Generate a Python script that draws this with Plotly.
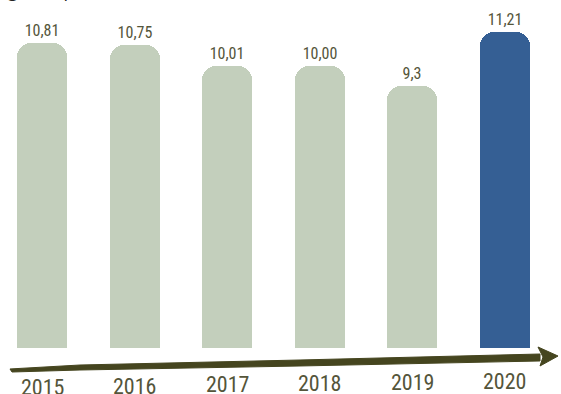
import plotly.graph_objects as go

years = ["2015", "2016", "2017", "2018", "2019", "2020"]
values = [10.81, 10.75, 10.01, 10.00, 9.3, 11.21]
value_labels = ["10,81", "10,75", "10,01", "10,00", "9,3", "11,21"]

W, H = 561, 394
SAGE = "#c3cfbc"
BLUE = "#355f94"
OLIVE = "#45451f"
TEXT = "#54553a"
FONT = "Roboto Condensed, Roboto, sans-serif"

colors = [SAGE] * (len(years) - 1) + [BLUE]

idx = list(range(len(years)))

fig = go.Figure()
fig.add_trace(go.Bar(
    x=idx, y=values,
    marker=dict(color=colors, line=dict(width=0), cornerradius=14),
    width=0.54,
    text=value_labels,
    textposition="outside",
    textfont=dict(family=FONT, size=16, color=TEXT, weight=400),
    cliponaxis=False,
    hoverinfo="skip",
))

# year labels along the (slightly rising) time arrow
for i, yr in enumerate(years):
    fig.add_annotation(
        x=i, y=-1.40 + 0.045 * i, xref="x", yref="y",
        text=yr, showarrow=False,
        font=dict(family=FONT, size=22, color=TEXT, weight=400),
        yanchor="middle",
    )

def px(x, y):
    return x / W, 1 - y / H

# tapered arrow shaft
pts = [(10, 369), (80, 365), (300, 360), (540, 354), (540, 361), (300, 366), (80, 370), (12, 372)]
path = "M " + " L ".join(f"{px(a,b)[0]:.4f},{px(a,b)[1]:.4f}" for a, b in pts) + " Z"
fig.add_shape(type="path", xref="paper", yref="paper", path=path,
              fillcolor=OLIVE, line=dict(color=OLIVE, width=1), layer="above")
head = [(538, 347), (558, 356), (540, 366), (543, 357)]
path2 = "M " + " L ".join(f"{px(a,b)[0]:.4f},{px(a,b)[1]:.4f}" for a, b in head) + " Z"
fig.add_shape(type="path", xref="paper", yref="paper", path=path2,
              fillcolor=OLIVE, line=dict(color=OLIVE, width=1), layer="above")

# cropped title remnant at the very top
fig.add_annotation(
    x=117 / W, y=1 - 4 / H, xref="paper", yref="paper",
    xanchor="right", yanchor="bottom",
    text="Tonnage (en poids)", showarrow=False,
    font=dict(family="Open Sans, sans-serif", size=18, color="#222222"),
)

fig.update_layout(
    width=W, height=H,
    margin=dict(l=0, r=0, t=0, b=0),
    paper_bgcolor="white", plot_bgcolor="white",
    showlegend=False,
    xaxis=dict(range=[-0.4536, 5.605], visible=False, fixedrange=True),
    yaxis=dict(range=[-1.631, 12.34], visible=False, fixedrange=True),
    bargap=0,
)

fig.write_html("out.html")
